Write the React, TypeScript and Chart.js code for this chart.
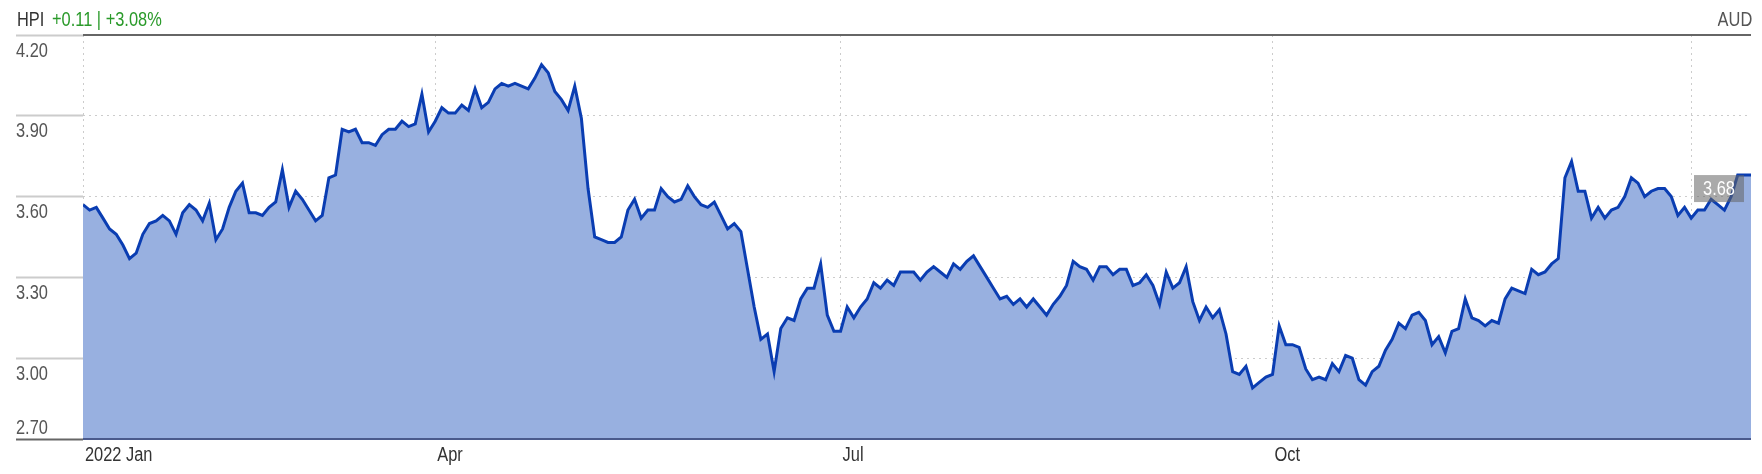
import React, { useEffect, useRef } from "react";
import { Chart, registerables } from "chart.js";

Chart.register(...registerables);

// ---- data ----
const TICKER = "HPI";
const CHANGE_TEXT = "+0.11 | +3.08%";
const CURRENCY = "AUD";

const PRICES: number[] = [
  3.57, 3.55, 3.56, 3.52, 3.48, 3.46, 3.42, 3.37, 3.39, 3.46,
  3.50, 3.51, 3.53, 3.51, 3.46, 3.54, 3.57, 3.55, 3.51, 3.575,
  3.44, 3.48, 3.56, 3.62, 3.65, 3.54, 3.54, 3.53, 3.56, 3.58,
  3.70, 3.56, 3.62, 3.59, 3.55, 3.51, 3.53, 3.67, 3.68, 3.85,
  3.84, 3.85, 3.80, 3.80, 3.79, 3.83, 3.85, 3.85, 3.88, 3.86,
  3.87, 3.98, 3.84, 3.88, 3.93, 3.91, 3.91, 3.94, 3.92, 4.00,
  3.93, 3.95, 4.00, 4.02, 4.01, 4.02, 4.01, 4.00, 4.04, 4.09,
  4.06, 3.99, 3.96, 3.92, 4.01, 3.89, 3.63, 3.45, 3.44, 3.43,
  3.43, 3.45, 3.55, 3.59, 3.52, 3.55, 3.55, 3.63, 3.60, 3.58,
  3.59, 3.64, 3.60, 3.57, 3.56, 3.58, 3.53, 3.48, 3.50, 3.47,
  3.33, 3.19, 3.07, 3.09, 2.95, 3.11, 3.15, 3.14, 3.22, 3.26,
  3.26, 3.35, 3.16, 3.10, 3.10, 3.19, 3.15, 3.19, 3.22, 3.28,
  3.26, 3.29, 3.27, 3.32, 3.32, 3.32, 3.29, 3.32, 3.34, 3.32,
  3.30, 3.35, 3.33, 3.36, 3.38, 3.34, 3.30, 3.26, 3.22, 3.23,
  3.20, 3.22, 3.19, 3.22, 3.19, 3.16, 3.20, 3.23, 3.27, 3.36,
  3.34, 3.33, 3.29, 3.34, 3.34, 3.31, 3.33, 3.33, 3.27, 3.28,
  3.31, 3.27, 3.20, 3.32, 3.26, 3.28, 3.34, 3.21, 3.14, 3.19,
  3.15, 3.18, 3.09, 2.95, 2.94, 2.97, 2.89, 2.91, 2.93, 2.94,
  3.12, 3.05, 3.05, 3.04, 2.96, 2.92, 2.93, 2.92, 2.98, 2.95,
  3.01, 3.00, 2.92, 2.90, 2.95, 2.97, 3.03, 3.07, 3.13, 3.11,
  3.16, 3.17, 3.14, 3.05, 3.08, 3.02, 3.10, 3.11, 3.22, 3.15,
  3.14, 3.12, 3.14, 3.13, 3.22, 3.26, 3.25, 3.24, 3.33, 3.31,
  3.32, 3.35, 3.37, 3.67, 3.73, 3.62, 3.62, 3.52, 3.56, 3.52,
  3.55, 3.56, 3.60, 3.67, 3.65, 3.60, 3.62, 3.63, 3.63, 3.60,
  3.53, 3.56, 3.52, 3.55, 3.55, 3.59, 3.57, 3.55, 3.60, 3.68,
  3.68, 3.68,
];

const X_TICK_INDEX: number[] = [0, 53, 114, 179, 242];
const X_TICK_LABELS: string[] = ["2022 Jan", "Apr", "Jul", "Oct", ""];
const Y_TICKS: number[] = [2.7, 3.0, 3.3, 3.6, 3.9, 4.2];
const Y_MIN = 2.7;
const Y_MAX = 4.2;

// ---- style ----
const FONT = '"Liberation Sans", Arial, sans-serif';
const SCALE_X = 0.82; // narrow look
const LINE_COLOR = "#0a3db2";
const FILL_COLOR = "#98b0e0";
const GRID_COLOR = "rgba(0,0,0,0.2)";

function narrowText(ctx: any, fill: any, text: string, x: number, y: number) {
  ctx.save();
  ctx.translate(x, y);
  ctx.scale(SCALE_X, 1);
  fill.call(ctx, text, 0, 0);
  ctx.restore();
}

// draws axis labels horizontally condensed
const condensePlugin = {
  id: "condense",
  beforeDraw(chart: any) {
    Object.values(chart.scales).forEach((s: any) => {
      if (s.__condensed) return;
      s.__condensed = true;
      const orig = s.drawLabels.bind(s);
      s.drawLabels = (area: any) => {
        const ctx = s.ctx;
        const of = ctx.fillText;
        ctx.fillText = function (t: string, x: number, y: number) {
          narrowText(this, of, t, x, y);
        };
        try {
          orig(area);
        } finally {
          ctx.fillText = of;
        }
      };
    });
  },
};

const framePlugin = {
  id: "frame",
  afterDraw(chart: any) {
    const { ctx, chartArea } = chart;
    const { left, right, top, bottom } = chartArea;
    ctx.save();
    ctx.strokeStyle = "#666666";
    ctx.lineWidth = 2;
    ctx.beginPath();
    ctx.moveTo(left, top);
    ctx.lineTo(right, top);
    ctx.stroke();
    ctx.strokeStyle = "#4a5a8c";
    ctx.beginPath();
    ctx.moveTo(left, bottom);
    ctx.lineTo(right, bottom);
    ctx.stroke();
    const last = PRICES[PRICES.length - 1];
    const yPix = chart.scales.y.getPixelForValue(last);
    const boxW = 50;
    const boxH = 27;
    const boxX = right - 7 - boxW;
    const boxY = yPix;
    ctx.fillStyle = "rgba(100,100,100,0.55)";
    ctx.fillRect(boxX, boxY, boxW, boxH);
    ctx.fillStyle = "#ffffff";
    ctx.font = `20px ${FONT}`;
    ctx.textAlign = "center";
    ctx.textBaseline = "middle";
    narrowText(ctx, ctx.fillText, last.toFixed(2), boxX + boxW / 2, boxY + boxH / 2 + 1);
    ctx.restore();
  },
};

function isEdgeTick(v: number | undefined) {
  return v !== undefined && (Math.abs(v - Y_MIN) < 1e-6 || Math.abs(v - Y_MAX) < 1e-6);
}

export default function App() {
  const canvasRef = useRef<HTMLCanvasElement | null>(null);

  useEffect(() => {
    if (!canvasRef.current) return;
    Chart.defaults.font.family = FONT;
    const chart = new Chart(canvasRef.current, {
      type: "line",
      data: {
        datasets: [
          {
            data: PRICES.map((v, i) => ({ x: i, y: v })),
            borderColor: LINE_COLOR,
            borderWidth: 3,
            backgroundColor: FILL_COLOR,
            fill: "start",
            pointRadius: 0,
            tension: 0,
            borderJoinStyle: "miter",
          },
        ],
      },
      options: {
        animation: false,
        responsive: false,
        devicePixelRatio: 1,
        layout: { padding: { left: 16, right: 11, top: 35, bottom: 0 } },
        plugins: {
          legend: { display: false },
          tooltip: { enabled: false },
        },
        scales: {
          x: {
            type: "linear",
            min: 0,
            max: PRICES.length - 1,
            z: 1,
            afterBuildTicks: (s: any) => {
              s.ticks = X_TICK_INDEX.map((v) => ({ value: v }));
            },
            afterFit: (s: any) => {
              s.height = 35;
              s.paddingLeft = 0;
              s.paddingRight = 0;
            },
            grid: { color: GRID_COLOR, lineWidth: 1, drawTicks: false },
            border: { display: false, dash: [2, 4] },
            ticks: {
              align: "start",
              padding: 4,
              labelOffset: 2,
              maxRotation: 0,
              autoSkip: false,
              color: "#333333",
              font: { family: FONT, size: 20 },
              callback: (_v: any, i: number) => X_TICK_LABELS[i],
            },
          },
          y: {
            type: "linear",
            min: Y_MIN,
            max: Y_MAX,
            z: 1,
            afterBuildTicks: (s: any) => {
              s.ticks = Y_TICKS.map((v) => ({ value: v }));
            },
            afterFit: (s: any) => {
              s.width = 67;
              s.paddingTop = 0;
              s.paddingBottom = 0;
            },
            grid: {
              color: (c: any) => (isEdgeTick(c.tick?.value) ? "rgba(0,0,0,0)" : GRID_COLOR),
              lineWidth: 1,
              drawTicks: true,
              tickLength: 67,
              tickWidth: 2,
              tickColor: (c: any) =>
                c.tick && Math.abs(c.tick.value - Y_MIN) < 1e-6 ? "#666666" : "#cccccc",
            },
            border: { display: false, dash: [2, 4] },
            ticks: {
              crossAlign: "far",
              padding: 0,
              labelOffset: 16,
              autoSkip: false,
              color: "#555555",
              font: (c: any) => ({
                family: FONT,
                size: 20,
                lineHeight: c.tick && Math.abs(c.tick.value - Y_MIN) < 1e-6 ? 1.34 : 1.2,
              }),
              callback: (v: any) => {
                const n = Number(v);
                const s = n.toFixed(2);
                return Math.abs(n - Y_MIN) < 1e-6 ? [s, "", ""] : s;
              },
            },
          },
        },
      },
      plugins: [condensePlugin, framePlugin],
    } as any);
    return () => chart.destroy();
  }, []);

  const textBase: React.CSSProperties = {
    position: "absolute",
    top: 9,
    fontFamily: FONT,
    fontSize: 20,
    lineHeight: "20px",
    whiteSpace: "nowrap",
    display: "inline-block",
    transform: `scaleX(${SCALE_X})`,
  };

  return (
    <div
      style={{
        position: "fixed",
        left: 0,
        top: 0,
        width: 1762,
        height: 474,
        background: "#ffffff",
        overflow: "hidden",
      }}
    >
      <canvas
        ref={canvasRef}
        width={1762}
        height={474}
        style={{ position: "absolute", left: 0, top: 0, width: 1762, height: 474 }}
      />
      <span style={{ ...textBase, left: 17, color: "#333333", transformOrigin: "left center" }}>
        {TICKER}
      </span>
      <span style={{ ...textBase, left: 52, color: "#2a9a2a", transformOrigin: "left center" }}>
        {CHANGE_TEXT}
      </span>
      <span style={{ ...textBase, right: 10, color: "#555555", transformOrigin: "right center" }}>
        {CURRENCY}
      </span>
    </div>
  );
}
